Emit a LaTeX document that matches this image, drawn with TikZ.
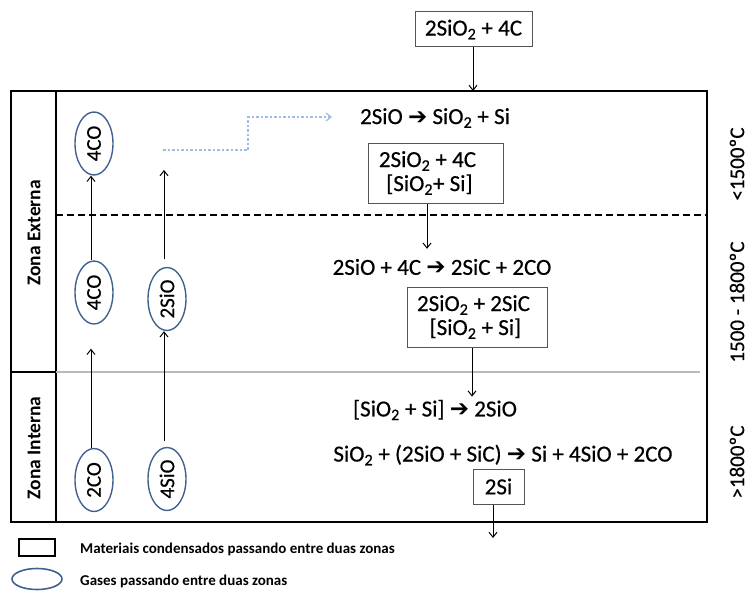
\documentclass[tikz,border=0pt]{standalone}
\usepackage{fontspec}
\setmainfont{Carlito}
\newfontfamily\rfont{Carlito}[FakeBold=0.5]
\newfontfamily\arrfont{DejaVu Sans}
\usetikzlibrary{shapes.geometric,arrows.meta}
\definecolor{gasblue}{HTML}{41628F}
\definecolor{dotblue}{HTML}{9DBDE6}
\definecolor{boxgray}{HTML}{555555}
\newcommand\rar{{\arrfont\char"2794}}
\newcommand\two{\textsubscript{2}}
\tikzset{
  frame/.style={line width=2pt, black},
  reac/.style={font=\rfont\fontsize{23}{25}\selectfont, inner sep=0pt},
  mat/.style={draw=boxgray, line width=1pt, font=\rfont\fontsize{23}{24}\selectfont, align=center, inner sep=0pt},
  gas/.style={ellipse, draw=gasblue, line width=1.4pt, inner sep=0pt, minimum width=38pt, minimum height=63pt, font=\rfont\fontsize{21}{22}\selectfont},
  zone/.style={rotate=90, font=\bfseries\fontsize{19.5}{20}\selectfont, inner sep=0pt},
  temp/.style={rotate=90, font=\rfont\fontsize{21}{22}\selectfont, inner sep=0pt},
  arr/.style={line width=1pt, -{Straight Barb[length=5pt,width=8pt]}},
  dotarr/.style={dotblue, line width=1.2pt, dash pattern=on 2.5pt off 2pt, -{Straight Barb[length=5pt,width=8pt]}},
  leg/.style={font=\bfseries\fontsize{15}{16}\selectfont, anchor=west, inner sep=0pt}
}
\begin{document}
\begin{tikzpicture}[x=1pt,y=-1pt]
\useasboundingbox (0,0) rectangle (749,591);
% frame
\draw[frame] (11,91) rectangle (707,522);
\draw[frame] (56,91) -- (56,522);
\draw[frame] (11,372) -- (56,372);
\draw[gray!55, line width=1.6pt] (56,372) -- (700,372);
\draw[black, line width=1.3pt, dash pattern=on 7pt off 4pt] (56,215) -- (707,215);
% zone labels
\node[zone] (zext) at (34,233) {Zona Externa};
\node[zone] (zint) at (34,448) {Zona Interna};
% temperature labels
\node[temp] (t1) at (737,164) {<1500ºC};
\node[temp] (t2) at (737,302) {1500 - 1800ºC};
\node[temp] (t3) at (737,462) {>1800ºC};
% top material
\node[mat, minimum width=117pt, minimum height=35pt] (top) at (473.5,29.5) {2SiO\two{} + 4C};
\coordinate (ftop) at (473,91);
\draw[arr] ([xshift=-0.5pt]top.south) -- (ftop);
% reactions
\node[reac] (r1) at (435,118) {2SiO \rar{} SiO\two{} + Si};
\node[mat, minimum width=135pt, minimum height=60pt] (b2) at (435.5,173) {2SiO\two{} + 4C\hspace*{16pt}\\\,[SiO\two+ Si]\hspace*{16pt}};
\node[reac] (r2) at (442,267) {2SiO + 4C \rar{} 2SiC + 2CO};
\draw[arr, shorten >=10pt] ([xshift=-8.5pt]b2.south) -- ([xshift=-15pt]r2.north);
\node[mat, minimum width=140pt, minimum height=60pt] (b3) at (477,317) {2SiO\two{} + 2SiC\hspace*{7pt}\\\,[SiO\two{} + Si]\hspace*{7pt}};
\node[reac] (r3) at (435,410) {[SiO\two{} + Si] \rar{} 2SiO};
\draw[arr, shorten >=3pt] ([xshift=-5pt]b3.south) -- ([xshift=37pt]r3.north);
\node[reac] (r4) at (503,455) {SiO\two{} + (2SiO + SiC) \rar{} Si + 4SiO + 2CO};
\node[mat, minimum width=51pt, minimum height=35pt] (b4) at (498.5,486.5) {2Si};
\coordinate (fbot) at (493,538);
\draw[arr] (b4.south -| fbot) -- (fbot);
% gases
\node[gas] (g4co) at (94,143.5) {\rotatebox{90}{4CO}};
\node[gas] (g4cob) at (94,292.5) {\rotatebox{90}{4CO}};
\node[gas] (g2sio) at (167,299) {\rotatebox{90}{2SiO}};
\node[gas] (g2co) at (94,480) {\rotatebox{90}{2CO}};
\node[gas] (g4sio) at (167,479) {\rotatebox{90}{4SiO}};
\draw[arr] ([xshift=-3pt]g4cob.north) -- ([xshift=-3pt]g4co.south);
\draw[arr, shorten >=24pt] ([xshift=-3pt]g2co.north) -- ([xshift=-3pt]g4cob.south);
\draw[arr, shorten <=6pt] ([xshift=-3pt]g4sio.north) -- ([xshift=-3pt]g2sio.south);
\coordinate (up) at (164,170);
\draw[arr, shorten <=8pt] ([xshift=-3pt]g2sio.north) -- (up);
\coordinate (d0) at (163,150);
\coordinate (d1) at (248,117);
\coordinate (d2) at (332,117);
\draw[dotarr] (d0) -| (d1) -- (d2);
% legend
\node[draw=black, line width=2pt, minimum width=36pt, minimum height=17pt, inner sep=0pt] (lrect) at (36.5,547.5) {};
\node[leg] (ltxt1) at (80,549) {Materiais condensados passando entre duas zonas};
\node[ellipse, draw=gasblue, line width=1.6pt, minimum width=50pt, minimum height=21pt, inner sep=0pt] (lell) at (37,579) {};
\node[leg] (ltxt2) at (80,581) {Gases passando entre duas zonas};
\end{tikzpicture}
\end{document}
